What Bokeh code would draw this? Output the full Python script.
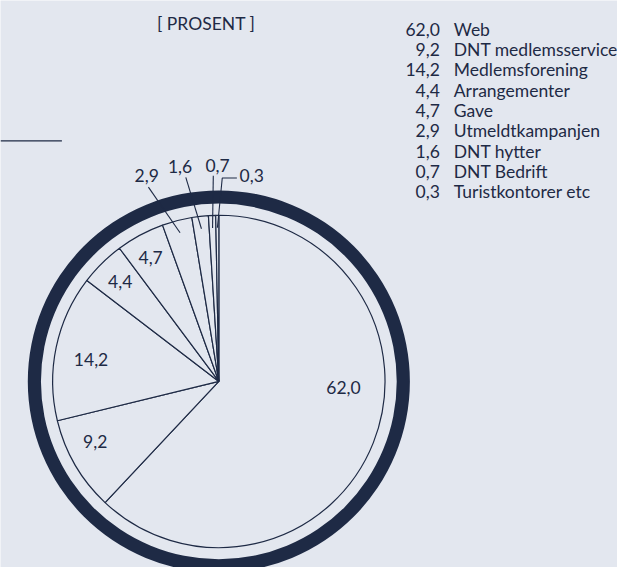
import math
from bokeh.plotting import figure
from bokeh.models import Range1d
from bokeh.core.properties import value
from bokeh.embed import file_html
from bokeh.resources import INLINE

# ---- data ----
categories = ["Web", "DNT medlemsservice", "Medlemsforening", "Arrangementer",
              "Gave", "Utmeldtkampanjen", "DNT hytter", "DNT Bedrift",
              "Turistkontorer etc"]
values = [62.0, 9.2, 14.2, 4.4, 4.7, 2.9, 1.6, 0.7, 0.3]
title_text = "[ PROSENT ]"

# ---- styles ----
BG = "#e3e7ef"
NAVY = "#1e2a45"
FONT = value("Lato")
FS = "17.5px"

# label placement (radius, angle shift in degrees clockwise from slice middle)
label_r = [128, 141, 133, 144, 145, 224, 225, 222, 214]
label_shift = [-19, 4.3, -2.2, 0, -0.6, -4.7, -3.7, 2.0, 9.6]
outside = [False, False, False, False, False, True, True, True, True]
leader_inner_r = 158
leader_outer_r = [212.5, 212.5, 211.6, 209.2]
leader_outer_shift = [-5.3, -2.7, 0.8, 1.5]
elbow_len = [0, 0, 0, 15]

PIE_R = 170.5
RING_IN, RING_OUT = 182.5, 196

p = figure(width=617, height=567,
           x_range=Range1d(-224, 409), y_range=Range1d(-191.3, 391.7),
           output_backend="svg", toolbar_location=None, min_border=0,
           x_axis_location=None, y_axis_location=None)
p.grid.visible = False
p.outline_line_color = None
p.background_fill_color = BG
p.border_fill_color = BG

total = sum(values)
starts, ends, mids = [], [], []
cum = 0.0
for v in values:
    a0 = cum / total * 2 * math.pi
    cum += v
    a1 = cum / total * 2 * math.pi
    starts.append(math.pi / 2 - a0)
    ends.append(math.pi / 2 - a1)
    mids.append((a0 + a1) / 2)  # clockwise from top, radians


def polar(r, theta):
    return r * math.sin(theta), r * math.cos(theta)


# outer ring
p.annulus(x=0, y=0, inner_radius=RING_IN, outer_radius=RING_OUT,
          fill_color=NAVY, line_color=None)

# pie
p.wedge(x=0, y=0, radius=PIE_R, start_angle=starts, end_angle=ends,
        direction="clock", fill_color=BG, line_color=NAVY, line_width=1.2)

# labels
fmt = [f"{v:.1f}".replace(".", ",") for v in values]
lx, ly = [], []
for i in range(len(values)):
    th = mids[i] + math.radians(label_shift[i])
    x, y = polar(label_r[i], th)
    lx.append(x)
    ly.append(y)
p.text(x=lx, y=ly, text=fmt, text_align="center", text_baseline="middle",
       text_font=FONT, text_font_size=FS, text_color=NAVY)

# leaders
xs, ys = [], []
k = 0
for i in range(len(values)):
    if not outside[i]:
        continue
    x0, y0 = polar(leader_inner_r, mids[i])
    x1, y1 = polar(leader_outer_r[k], mids[i] + math.radians(leader_outer_shift[k]))
    lxs, lys = [x0, x1], [y0, y1]
    if elbow_len[k]:
        lxs.append(x1 + elbow_len[k])
        lys.append(y1)
    xs.append(lxs)
    ys.append(lys)
    k += 1
p.multi_line(xs=xs, ys=ys, line_color=NAVY, line_width=1.1)

# decorative top-left rule
p.segment(x0=[-224], y0=[247.4], x1=[-161], y1=[247.4], line_color=NAVY, line_width=1.3)

# title
p.text(x=[-13], y=[368.2], text=[title_text], text_align="center", text_baseline="middle",
       text_font=FONT, text_font_size=FS, text_color=NAVY)

# legend
rows_y = [391.7 - (29.5 + i * 20.9) for i in range(len(values))]
p.text(x=[226.7] * len(values), y=rows_y, text=fmt, text_align="right",
       text_baseline="middle", text_font=FONT, text_font_size=FS, text_color=NAVY)
p.text(x=[241] * len(values), y=rows_y, text=categories, text_align="left",
       text_baseline="middle", text_font=FONT, text_font_size=FS, text_color=NAVY)

open("out.html", "w").write(file_html(p, INLINE))
